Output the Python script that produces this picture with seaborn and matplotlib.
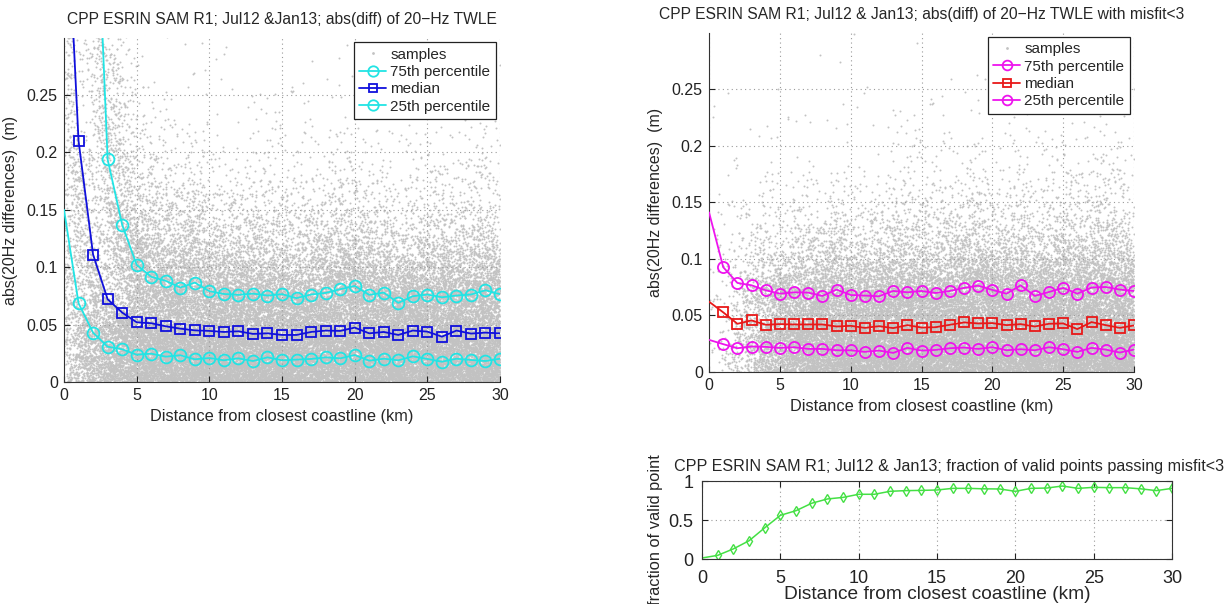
import numpy as np
import matplotlib
matplotlib.use("Agg")
import matplotlib.pyplot as plt
import seaborn as sns
from matplotlib.ticker import FuncFormatter, MultipleLocator
from matplotlib.lines import Line2D

# ---------------- data ----------------
km = list(range(31))

left_p75 = [1.20, 0.90, 0.50, 0.194, 0.137, 0.102, 0.0916, 0.0881, 0.0823, 0.0866,
            0.0791, 0.0767, 0.0759, 0.077, 0.0753, 0.0765, 0.073, 0.0762, 0.0776, 0.0808,
            0.0837, 0.0759, 0.0779, 0.0689, 0.0747, 0.0762, 0.0738, 0.0753, 0.0762, 0.0799, 0.0765]
left_p50 = [0.47, 0.210, 0.111, 0.0721, 0.0605, 0.052, 0.0512, 0.0485, 0.0465, 0.045,
            0.0445, 0.0436, 0.0442, 0.0419, 0.0424, 0.041, 0.041, 0.0436, 0.0448, 0.0445,
            0.0474, 0.0424, 0.0436, 0.041, 0.0448, 0.0439, 0.0395, 0.0448, 0.0422, 0.043, 0.0424]
left_p25 = [0.150, 0.0686, 0.043, 0.0308, 0.0285, 0.0238, 0.0247, 0.0221, 0.0233, 0.0198,
            0.0209, 0.0189, 0.0206, 0.0183, 0.0215, 0.0189, 0.0195, 0.0201, 0.0215, 0.0206,
            0.0235, 0.0186, 0.0203, 0.0189, 0.0224, 0.0201, 0.0177, 0.0203, 0.0192, 0.0183, 0.0203]

right_p75 = [0.141, 0.0926, 0.0787, 0.0766, 0.0722, 0.0692, 0.0704, 0.0701, 0.0672, 0.0728,
             0.068, 0.0675, 0.0669, 0.0716, 0.0704, 0.0716, 0.0698, 0.0716, 0.0743, 0.0763,
             0.0725, 0.0692, 0.0766, 0.0672, 0.0707, 0.0743, 0.0692, 0.0746, 0.0751, 0.0728, 0.0716]
right_p50 = [0.0621, 0.0527, 0.0426, 0.0456, 0.0417, 0.0423, 0.042, 0.042, 0.042, 0.0402,
             0.0408, 0.039, 0.0405, 0.0388, 0.0414, 0.0393, 0.0396, 0.0417, 0.0438, 0.0429,
             0.0432, 0.0414, 0.0423, 0.0402, 0.0426, 0.0429, 0.0379, 0.0441, 0.0414, 0.039, 0.0411]
right_p25 = [0.0284, 0.0246, 0.021, 0.0225, 0.0222, 0.0213, 0.0219, 0.0204, 0.0204, 0.0192,
             0.0192, 0.0178, 0.0189, 0.0169, 0.0213, 0.0189, 0.0195, 0.021, 0.0216, 0.0204,
             0.0219, 0.0192, 0.0201, 0.0192, 0.0219, 0.0201, 0.0178, 0.0213, 0.0198, 0.0172, 0.0198]

valid_frac = [0.013, 0.047, 0.13, 0.234, 0.40, 0.56, 0.62, 0.715, 0.77, 0.79,
              0.83, 0.83, 0.868, 0.877, 0.88, 0.885, 0.906, 0.906, 0.90, 0.898,
              0.868, 0.906, 0.91, 0.936, 0.906, 0.919, 0.915, 0.915, 0.90, 0.877, 0.906]

x_ticks = [0, 5, 10, 15, 20, 25, 30]
legend_labels = ["samples", "75th percentile", "median", "25th percentile"]
title_left = "CPP ESRIN SAM R1; Jul12 &Jan13; abs(diff) of 20\u2212Hz TWLE"
title_right = "CPP ESRIN SAM R1; Jul12 & Jan13; abs(diff) of 20\u2212Hz TWLE with misfit<3"
title_bottom = "CPP ESRIN SAM R1; Jul12 & Jan13; fraction of valid points passing misfit<3"
xlabel = "Distance from closest coastline (km)"
ylabel_top = "abs(20Hz differences)  (m)"
ylabel_bottom = "fraction of valid point"


# ------------- sample cloud (deterministic, shaped by the read percentiles) -------------
def weyl(i, alpha, power):
    f = (i * alpha) % 1.0
    for _ in range(power - 1):
        f = (i * f) % 1.0
    return f


def sample_cloud(p25, p50, p75, n_per_km, weight=None):
    n = n_per_km * 30
    i = np.arange(1, n + 1, dtype=float)
    u = weyl(i, 0.6180339887498949, 1)
    v = weyl(i, 0.4142135623730951, 2)
    w = weyl(i, 0.7320508075688772, 3)
    x = 30 * u
    q25 = np.interp(x, km, p25)
    q50 = np.interp(x, km, p50)
    q75 = np.interp(x, km, p75)
    tail = -np.log(np.clip((1 - v) / 0.25, 1e-9, 1))
    y = np.where(
        v < 0.25, q25 * v / 0.25,
        np.where(v < 0.5, q25 + (q50 - q25) * (v - 0.25) / 0.25,
                 np.where(v < 0.75, q50 + (q75 - q50) * (v - 0.5) / 0.25,
                          q75 + (q75 - q50) * 1.0 * tail)))
    if weight is not None:
        keep = w < np.interp(x, km, weight)
        x, y = x[keep], y[keep]
    return x, y


sns.set_theme(style="white")
plt.rcParams["font.family"] = ["Liberation Sans", "DejaVu Sans"]
plt.rcParams["axes.unicode_minus"] = True

fig = plt.figure(figsize=(12.31, 6.04), dpi=100)
axL = fig.add_axes([0.052, 0.3675, 0.3542, 0.5695])
axR = fig.add_axes([0.576, 0.3841, 0.3452, 0.5613])
axB = fig.add_axes([0.5703, 0.0745, 0.3818, 0.1291])

fmt = FuncFormatter(lambda v, p: "%g" % round(v, 4))
sample_color = "#c2c2c2"


def style_top(ax):
    ax.set_xlim(0, 30)
    ax.set_ylim(0, 0.2995)
    ax.xaxis.set_major_locator(MultipleLocator(5))
    ax.yaxis.set_major_locator(MultipleLocator(0.05))
    ax.yaxis.set_major_formatter(fmt)
    ax.grid(True, linestyle=(0, (1, 3)), color="#9a9a9a", linewidth=0.8)
    ax.set_axisbelow(True)
    for s in ["top", "right"]:
        ax.spines[s].set_visible(False)
    for s in ["left", "bottom"]:
        ax.spines[s].set_color("#333333")
        ax.spines[s].set_linewidth(0.8)
    ax.tick_params(direction="in", length=4, width=0.8, labelsize=11.5, colors="#222222",
                   left=True, bottom=True, pad=4.5)
    ax.set_xlabel(xlabel, fontsize=11.8, labelpad=4)
    ax.set_ylabel(ylabel_top, fontsize=11.5, labelpad=6)
    ax.set_facecolor("white")


def draw_panel(ax, p25, p50, p75, c_out, c_mid, x, y, ms_o, ms_s, title):
    sns.scatterplot(x=x, y=y, ax=ax, color=sample_color, s=2.0, linewidth=0,
                    marker="o", legend=False, zorder=0.2)
    common = dict(ax=ax, linewidth=1.3, markevery=slice(1, None), markerfacecolor="none",
                  markeredgewidth=1.3, legend=False, zorder=3)
    sns.lineplot(x=km, y=p75, color=c_out, marker="o", markersize=ms_o,
                 markeredgecolor=c_out, **common)
    sns.lineplot(x=km, y=p50, color=c_mid, marker="s", markersize=ms_s,
                 markeredgecolor=c_mid, **common)
    sns.lineplot(x=km, y=p25, color=c_out, marker="o", markersize=ms_o,
                 markeredgecolor=c_out, **common)
    style_top(ax)
    ax.set_title(title, fontsize=11.25, pad=10)
    handles = [
        Line2D([], [], ls="none", marker="o", ms=2, color=sample_color, mec="none"),
        Line2D([], [], color=c_out, marker="o", ms=ms_o - 1, mfc="none", mec=c_out, mew=1.3, lw=1.3),
        Line2D([], [], color=c_mid, marker="s", ms=ms_s - 1, mfc="none", mec=c_mid, mew=1.3, lw=1.3),
        Line2D([], [], color=c_out, marker="o", ms=ms_o - 1, mfc="none", mec=c_out, mew=1.3, lw=1.3),
    ]
    leg = ax.legend(handles, legend_labels, loc="upper right", bbox_to_anchor=(0.99, 0.988),
                    fontsize=11, frameon=True, fancybox=False, framealpha=1, edgecolor="#222222",
                    borderpad=0.35, labelspacing=0.22, handlelength=1.8, handletextpad=0.25,
                    borderaxespad=0)
    leg.get_frame().set_linewidth(0.9)
    leg.set_zorder(5)


xl, yl = sample_cloud(left_p25, left_p50, left_p75, 1300)
draw_panel(axL, left_p25, left_p50, left_p75, "#22e4e4", "#1010dc", xl, yl, 8.5, 7,
           title_left)

xr, yr = sample_cloud(right_p25, right_p50, right_p75, 1300, weight=valid_frac)
draw_panel(axR, right_p25, right_p50, right_p75, "#ee14ee", "#e81818", xr, yr, 8, 6.5,
           title_right)

# bottom: fraction of valid points
green = "#44e044"
sns.lineplot(x=km, y=valid_frac, ax=axB, color=green, marker="d", markersize=5.5,
             markerfacecolor="none", markeredgecolor=green, markeredgewidth=1.0,
             linewidth=1.1, markevery=slice(1, None), legend=False)
axB.set_xlim(0, 30)
axB.set_ylim(0, 1)
axB.set_xticks(x_ticks)
axB.set_yticks([0, 0.5, 1])
axB.yaxis.set_major_formatter(fmt)
axB.grid(True, linestyle=(0, (1, 3)), color="#9a9a9a", linewidth=0.8)
axB.set_axisbelow(True)
for s in axB.spines.values():
    s.set_visible(True)
    s.set_color("#333333")
    s.set_linewidth(0.8)
axB.tick_params(direction="in", length=4, width=0.8, labelsize=13, colors="#222222",
                left=True, bottom=True, top=True, right=True, labeltop=False, labelright=False,
                pad=6)
axB.tick_params(axis="x", pad=8)
axB.set_xlabel(xlabel, fontsize=13.8, labelpad=-1)
axB.set_ylabel(ylabel_bottom, fontsize=11.8)
axB.yaxis.set_label_coords(-0.082, 0.38)
axB.set_title(title_bottom, fontsize=11.6, pad=7, x=0.525)
axB.set_facecolor("white")

fig.savefig("out.png", dpi=100, facecolor="white")
